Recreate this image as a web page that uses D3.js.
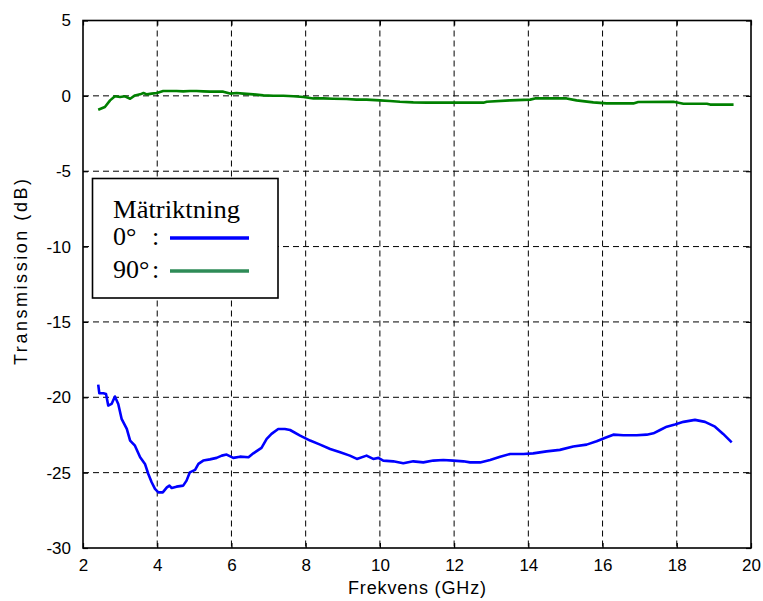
<!DOCTYPE html>
<html>
<head>
<meta charset="utf-8">
<script src="https://cdn.jsdelivr.net/npm/d3@7"></script>
<style>
  html, body { margin: 0; padding: 0; background: #fff; }
  svg { display: block; }
  .tick text { font-family: "Liberation Sans", Arial, sans-serif; font-size: 17px; fill: #000; }
</style>
</head>
<body>
<svg id="chart" width="763" height="601"></svg>
<script>
// Frequency sweep (GHz) and transmission (dB) for the two measurement directions
const freq0 = [2.41,2.44,2.55,2.62,2.68,2.77,2.86,2.95,3.04,3.18,3.27,3.40,3.54,3.67,3.76,3.85,3.94,4.03,4.15,4.26,
  4.33,4.39,4.52,4.70,4.79,4.88,5.02,5.11,5.24,5.42,5.60,5.74,5.87,6.05,6.23,6.46,6.59,6.81,6.95,7.08,
  7.26,7.44,7.58,7.85,8.12,8.39,8.66,8.93,9.19,9.38,9.64,9.82,9.96,10.09,10.36,10.63,10.90,11.17,11.44,11.71,
  11.98,12.25,12.43,12.70,12.97,13.24,13.51,13.87,14.13,14.49,14.85,15.21,15.57,15.84,16.11,16.29,16.56,16.92,17.19,17.37,
  17.55,17.73,17.95,18.18,18.49,18.76,19.03,19.25,19.48];
const trans0 = [-19.16,-19.73,-19.73,-19.78,-20.55,-20.44,-19.95,-20.44,-21.43,-22.10,-22.87,-23.21,-23.98,-24.42,-25.09,-25.64,-26.08,-26.31,-26.31,-25.98,
  -25.86,-26.02,-25.93,-25.86,-25.53,-24.98,-24.82,-24.42,-24.20,-24.12,-24.02,-23.87,-23.80,-24.02,-23.94,-23.98,-23.72,-23.36,-22.76,-22.43,
  -22.10,-22.10,-22.17,-22.54,-22.87,-23.14,-23.43,-23.65,-23.87,-24.09,-23.87,-24.09,-24.02,-24.20,-24.25,-24.38,-24.25,-24.32,-24.20,-24.16,
  -24.20,-24.25,-24.32,-24.32,-24.16,-23.94,-23.76,-23.76,-23.72,-23.59,-23.49,-23.27,-23.14,-22.92,-22.65,-22.48,-22.52,-22.52,-22.48,-22.39,
  -22.17,-21.95,-21.81,-21.63,-21.50,-21.63,-21.95,-22.43,-22.99];

const freq90 = [2.41,2.59,2.73,2.86,3.00,3.13,3.27,3.40,3.54,3.63,3.72,3.85,3.99,4.16,4.34,4.52,4.70,4.88,5.06,5.24,
  5.42,5.60,5.78,5.96,6.14,6.32,6.59,6.86,7.13,7.40,7.67,7.94,8.21,8.48,8.74,9.10,9.37,9.64,10.00,10.27,
  10.54,10.90,11.26,11.98,12.79,12.88,13.51,14.05,14.18,15.03,15.30,15.75,16.11,16.83,16.96,17.91,18.18,18.81,18.90,19.53];
const trans90 = [-0.92,-0.74,-0.30,-0.03,-0.08,-0.03,-0.19,0.03,0.10,0.19,0.10,0.15,0.19,0.32,0.32,0.32,0.30,0.32,0.32,0.30,
  0.28,0.28,0.28,0.15,0.19,0.15,0.10,0.03,0.01,0.01,-0.03,-0.08,-0.17,-0.17,-0.19,-0.21,-0.25,-0.25,-0.30,-0.34,
  -0.39,-0.43,-0.45,-0.45,-0.45,-0.39,-0.30,-0.25,-0.17,-0.17,-0.30,-0.43,-0.50,-0.50,-0.41,-0.39,-0.52,-0.52,-0.58,-0.58];

const xTicks = [2,4,6,8,10,12,14,16,18,20];
const yTicks = [5,0,-5,-10,-15,-20,-25,-30];

const legendTitle = "Mätriktning";
const legendLabels = ["0°", "90°"];

const svg = d3.select("#chart");
const plotLeft = 83, plotRight = 751, plotTop = 20.5, plotBottom = 548;

const x = d3.scaleLinear().domain([2, 20]).range([plotLeft, plotRight]);
const y = d3.scaleLinear().domain([-30, 5]).range([plotBottom, plotTop]);

// dashed grid
const grid = svg.append("g");
grid.selectAll("line.gx").data(xTicks.slice(1, -1)).enter().append("line")
  .attr("x1", d => x(d)).attr("x2", d => x(d)).attr("y1", plotTop).attr("y2", plotBottom)
  .attr("stroke", "#000").attr("stroke-width", 1).attr("stroke-dasharray", "6,4");
grid.selectAll("line.gy").data(yTicks.slice(1, -1)).enter().append("line")
  .attr("x1", plotLeft).attr("x2", plotRight).attr("y1", d => y(d)).attr("y2", d => y(d))
  .attr("stroke", "#000").attr("stroke-width", 1).attr("stroke-dasharray", "6,4");

// data lines
const line = d3.line().x(d => x(d[0])).y(d => y(d[1]));
svg.append("path").datum(d3.zip(freq90, trans90))
  .attr("fill", "none").attr("stroke", "#008000").attr("stroke-width", 2.6)
  .attr("stroke-linejoin", "round").attr("d", line);
svg.append("path").datum(d3.zip(freq0, trans0))
  .attr("fill", "none").attr("stroke", "#0000ff").attr("stroke-width", 2.6)
  .attr("stroke-linejoin", "round").attr("d", line);

// axes with inward ticks on all four sides
const fmt = d => String(d);
const axB = svg.append("g").attr("transform", `translate(0,${plotBottom})`)
  .call(d3.axisBottom(x).tickValues(xTicks).tickSize(-5).tickPadding(10).tickFormat(fmt));
const axT = svg.append("g").attr("transform", `translate(0,${plotTop})`)
  .call(d3.axisTop(x).tickValues(xTicks).tickSize(-5).tickFormat(""));
const axL = svg.append("g").attr("transform", `translate(${plotLeft},0)`)
  .call(d3.axisLeft(y).tickValues(yTicks).tickSize(-5).tickPadding(12).tickFormat(fmt));
const axR = svg.append("g").attr("transform", `translate(${plotRight},0)`)
  .call(d3.axisRight(y).tickValues(yTicks).tickSize(-5).tickFormat(""));
[axB, axT, axL, axR].forEach(a => {
  a.select(".domain").remove();
  a.selectAll(".tick line").attr("stroke", "#000").attr("stroke-width", 1.2);
});
axB.selectAll(".tick text").attr("dy", "0.75em");

// frame
svg.append("rect").attr("x", plotLeft).attr("y", plotTop)
  .attr("width", plotRight - plotLeft).attr("height", plotBottom - plotTop)
  .attr("fill", "none").attr("stroke", "#000").attr("stroke-width", 1.6);

// axis titles
svg.append("text")
  .attr("x", (plotLeft + plotRight) / 2).attr("y", 594)
  .attr("text-anchor", "middle")
  .attr("font-family", "Liberation Sans, Arial, sans-serif").attr("font-size", 18)
  .attr("textLength", 138).attr("lengthAdjust", "spacing")
  .text("Frekvens (GHz)");
svg.append("text")
  .attr("transform", "translate(27,272) rotate(-90)")
  .attr("text-anchor", "middle")
  .attr("font-family", "Liberation Sans, Arial, sans-serif").attr("font-size", 18)
  .attr("textLength", 186).attr("lengthAdjust", "spacing")
  .text("Transmission (dB)");

// legend
const lg = svg.append("g");
lg.append("rect").attr("x", 92.5).attr("y", 178.5).attr("width", 185.5).attr("height", 119.5)
  .attr("fill", "#fff").attr("stroke", "#000").attr("stroke-width", 1.6);
const serif = "Liberation Serif, Times New Roman, serif";
lg.append("text").attr("x", 113).attr("y", 218)
  .attr("font-family", serif).attr("font-size", 26)
  .attr("textLength", 127).attr("lengthAdjust", "spacingAndGlyphs")
  .text(legendTitle);
const legendColors = ["#0000ff", "#2e8b57"];
const rowY = [245, 278];
legendLabels.forEach((lab, i) => {
  lg.append("text").attr("x", 113).attr("y", rowY[i])
    .attr("font-family", serif).attr("font-size", 26).text(lab);
  lg.append("text").attr("x", 152).attr("y", rowY[i])
    .attr("font-family", serif).attr("font-size", 26).text(":");
  lg.append("line").attr("x1", 170).attr("x2", 249)
    .attr("y1", rowY[i] - 7).attr("y2", rowY[i] - 7)
    .attr("stroke", legendColors[i]).attr("stroke-width", 3.5);
});
</script>
</body>
</html>
